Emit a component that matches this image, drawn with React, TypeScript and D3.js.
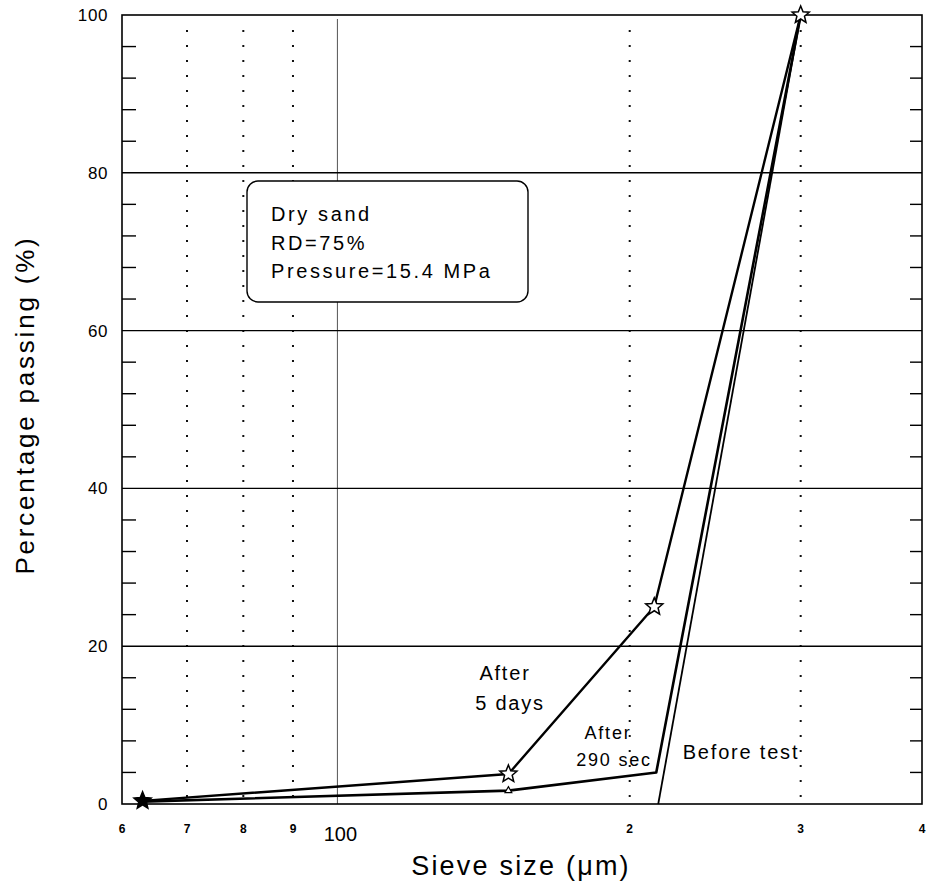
import React, { useRef, useEffect } from "react";
import * as d3 from "d3";

const yTicks = [0, 20, 40, 60, 80, 100];
const xTickValues = [60, 70, 80, 90, 100, 200, 300, 400];
const xTickLabels = ["6", "7", "8", "9", "100", "2", "3", "4"];
const dottedX = [70, 80, 90, 200, 300];

const fiveDaysSize = [63, 150, 212, 300];
const fiveDaysPass = [0.4, 3.8, 25, 100];
const secSize = [63, 150, 213, 300];
const secPass = [0.3, 1.7, 4, 100];
const beforeSize = [214, 300];
const beforePass = [0, 100];

const infoLines = ["Dry sand", "RD=75%", "Pressure=15.4 MPa"];

const font = "'Liberation Sans', Arial, sans-serif";

function starPath(cx, cy, R, r) {
    const pts = [];
    for (let i = 0; i < 10; i++) {
        const a = -Math.PI / 2 + (i * Math.PI) / 5;
        const rad = i % 2 === 0 ? R : r;
        pts.push([cx + rad * Math.cos(a), cy + rad * Math.sin(a)]);
    }
    return "M" + pts.map((p) => p.join(",")).join("L") + "Z";
}

const App = () => {
    const ref = useRef(null);
    const width = 927;
    const height = 887;
    const left = 122;
    const right = 922;
    const top = 15;
    const bottom = 804;

    useEffect(() => {
        const svg = d3.select(ref.current);
        svg.selectAll("*").remove();

        const x = d3.scaleLog().domain([60, 400]).range([left, right]);
        const y = d3.scaleLinear().domain([0, 100]).range([bottom, top]);

        // dotted verticals
        svg.selectAll(".dot-v")
            .data(dottedX)
            .enter()
            .append("line")
            .attr("x1", (d) => x(d))
            .attr("x2", (d) => x(d))
            .attr("y1", top + 15)
            .attr("y2", bottom)
            .attr("stroke", "#111")
            .attr("stroke-width", 2)
            .attr("stroke-dasharray", "2 13");

        // solid vertical at 100
        svg.append("line")
            .attr("x1", x(100))
            .attr("x2", x(100))
            .attr("y1", top + 4)
            .attr("y2", bottom)
            .attr("stroke", "#555")
            .attr("stroke-width", 1);

        // horizontal grid
        svg.selectAll(".grid-h")
            .data(yTicks.slice(1, -1))
            .enter()
            .append("line")
            .attr("x1", left)
            .attr("x2", right)
            .attr("y1", (d) => y(d))
            .attr("y2", (d) => y(d))
            .attr("stroke", "#000")
            .attr("stroke-width", 1.4);

        // minor ticks every 4%
        const minor = d3.range(0, 101, 4).filter((d) => d % 20 !== 0);
        svg.selectAll(".minor-l")
            .data(minor)
            .enter()
            .append("line")
            .attr("x1", left)
            .attr("x2", left + 14)
            .attr("y1", (d) => y(d))
            .attr("y2", (d) => y(d))
            .attr("stroke", "#000")
            .attr("stroke-width", 1.4);
        svg.selectAll(".minor-r")
            .data(minor)
            .enter()
            .append("line")
            .attr("x1", right - 12)
            .attr("x2", right)
            .attr("y1", (d) => y(d))
            .attr("y2", (d) => y(d))
            .attr("stroke", "#000")
            .attr("stroke-width", 1.4);

        // frame
        svg.append("rect")
            .attr("x", left)
            .attr("y", top)
            .attr("width", right - left)
            .attr("height", bottom - top)
            .attr("fill", "none")
            .attr("stroke", "#000")
            .attr("stroke-width", 1.6);

        // y tick labels
        svg.selectAll(".ylab")
            .data(yTicks)
            .enter()
            .append("text")
            .attr("x", left - 14)
            .attr("y", (d) => y(d) + 6)
            .attr("text-anchor", "end")
            .style("font-family", font)
            .style("font-size", "17px")
            .style("letter-spacing", "0.6px")
            .text((d) => d);

        // x tick labels
        svg.selectAll(".xlab")
            .data(xTickValues)
            .enter()
            .append("text")
            .attr("x", (d) => x(d) + (d === 100 ? 3 : 0))
            .attr("y", (d) => (d === 100 ? 841 : 833))
            .attr("text-anchor", "middle")
            .style("font-family", font)
            .style("font-size", (d) => (d === 100 ? "20px" : "12px"))
            .style("font-weight", (d) => (d === 100 ? "normal" : "bold"))
            .text((d, i) => xTickLabels[i]);

        // axis titles
        svg.append("text")
            .attr("x", 521)
            .attr("y", 875)
            .attr("text-anchor", "middle")
            .style("font-family", font)
            .style("font-size", "27px")
            .style("letter-spacing", "2.2px")
            .text("Sieve size (\u03bcm)");
        svg.append("text")
            .attr("transform", "translate(34,405) rotate(-90)")
            .attr("text-anchor", "middle")
            .style("font-family", font)
            .style("font-size", "26px")
            .style("letter-spacing", "2.8px")
            .text("Percentage passing (%)");

        // info box
        svg.append("rect")
            .attr("x", 247)
            .attr("y", 181)
            .attr("width", 281)
            .attr("height", 121)
            .attr("rx", 11)
            .attr("fill", "#fff")
            .attr("stroke", "#000")
            .attr("stroke-width", 1.4);
        svg.selectAll(".info")
            .data(infoLines)
            .enter()
            .append("text")
            .attr("x", 271)
            .attr("y", (d, i) => 221 + i * 28.5)
            .style("font-family", font)
            .style("font-size", "20px")
            .style("letter-spacing", "2.6px")
            .text((d) => d);

        // series lines
        const line = d3
            .line()
            .x((d) => x(d[0]))
            .y((d) => y(d[1]));
        const series = [
            { sz: fiveDaysSize, p: fiveDaysPass, w: 2.4 },
            { sz: secSize, p: secPass, w: 2.6 },
            { sz: beforeSize, p: beforePass, w: 1.8 },
        ];
        series.forEach((s) => {
            svg.append("path")
                .attr("d", line(s.sz.map((v, i) => [v, s.p[i]])))
                .attr("fill", "none")
                .attr("stroke", "#000")
                .attr("stroke-width", s.w)
                .attr("stroke-linejoin", "round");
        });

        // markers
        svg.selectAll(".star")
            .data(fiveDaysSize.map((v, i) => [v, fiveDaysPass[i]]))
            .enter()
            .append("path")
            .attr("d", (d) => starPath(x(d[0]), y(d[1]), 9, 4))
            .attr("fill", (d, i) => (i === 0 ? "#000" : "#fff"))
            .attr("stroke", "#000")
            .attr("stroke-width", 1.5);
        svg.append("path")
            .attr("d", d3.symbol(d3.symbolTriangle, 20)())
            .attr("transform", `translate(${x(secSize[1])},${y(secPass[1])})`)
            .attr("fill", "#fff")
            .attr("stroke", "#000")
            .attr("stroke-width", 1.2);

        // series annotations
        const notes = [
            { t: "After", x: 505, y: 680, s: 20 },
            { t: "5 days", x: 510, y: 710, s: 20 },
            { t: "After", x: 608, y: 739, s: 18 },
            { t: "290 sec", x: 614, y: 766, s: 18 },
            { t: "Before test", x: 741, y: 759, s: 20 },
        ];
        svg.selectAll(".note")
            .data(notes)
            .enter()
            .append("text")
            .attr("x", (d) => d.x)
            .attr("y", (d) => d.y)
            .attr("text-anchor", "middle")
            .style("font-family", font)
            .style("font-size", (d) => d.s + "px")
            .style("letter-spacing", "1.8px")
            .text((d) => d.t);
    });

    return (
        <svg
            ref={ref}
            width={width}
            height={height}
            style={{ position: "absolute", left: 0, top: 0, background: "#fff" }}
        />
    );
};

export default App;
